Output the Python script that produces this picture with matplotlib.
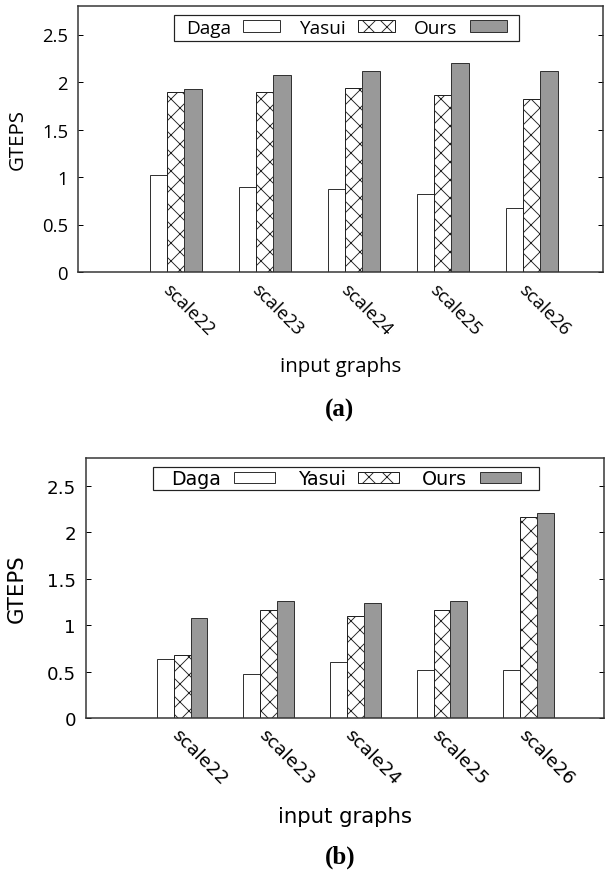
import numpy as np
import matplotlib
matplotlib.use("Agg")
import matplotlib.pyplot as plt
import matplotlib.transforms as mtrans
from matplotlib.patches import Rectangle

# data
graphs = ["scale22", "scale23", "scale24", "scale25", "scale26"]
series = ["Daga", "Yasui", "Ours"]

daga_a = [1.02, 0.89, 0.87, 0.82, 0.675]
yasui_a = [1.90, 1.89, 1.94, 1.865, 1.82]
ours_a = [1.925, 2.07, 2.115, 2.205, 2.12]

daga_b = [0.64, 0.475, 0.60, 0.515, 0.515]
yasui_b = [0.68, 1.16, 1.10, 1.165, 2.16]
ours_b = [1.08, 1.265, 1.24, 1.255, 2.205]

yticks = [0, 0.5, 1, 1.5, 2, 2.5]
ytick_labels = ["0", "0.5", "1", "1.5", "2", "2.5"]

DPI = 108   # hatch cell is one inch, so 'xx' gives ~9px diamonds here
W, H = 605, 875
plt.rcParams["hatch.linewidth"] = 0.6


def pt(p):
    # pixels -> points
    return p * 72.0 / DPI


fig = plt.figure(figsize=(W / DPI, H / DPI), dpi=DPI)


def px(x0, y0, x1, y1):
    # pixel box -> figure fraction rect
    return [x0 / W, 1 - y1 / H, (x1 - x0) / W, (y1 - y0) / H]


def panel(rect, vals, font, sizes, xlim, leg_box, leg_opts, ylab_xy, xlab_y, cap, cap_y, lab_off):
    tick_fs, lab_fs, leg_fs = [pt(s) for s in sizes]
    ax = fig.add_axes(rect)
    x = np.arange(len(graphs))
    w = 0.195
    styles = [
        dict(color="white", edgecolor="#333333"),
        dict(color="white", edgecolor="#222222", hatch="xx"),
        dict(color="#999999", edgecolor="#333333"),
    ]
    handles = []
    for i, (v, st) in enumerate(zip(vals, styles)):
        b = ax.bar(x + (i - 1) * w, v, w, linewidth=pt(1), label=series[i], **st)
        handles.append(b)
    ax.set_xlim(*xlim)
    ax.set_ylim(0, 2.8)
    ax.set_yticks(yticks)
    ax.set_yticklabels(ytick_labels, fontfamily=font, fontsize=tick_fs)
    ax.tick_params(axis="y", direction="in", length=pt(5), width=pt(1), right=True, pad=pt(10))
    ax.set_xticks(x)
    ax.set_xticklabels(graphs, fontfamily=font, fontsize=tick_fs, rotation=-45,
                       ha="left", va="top", rotation_mode="anchor")
    ax.tick_params(axis="x", length=0, pad=pt(lab_off[1]))
    shift = mtrans.ScaledTranslation(lab_off[0] / DPI, 0, fig.dpi_scale_trans)
    for t in ax.get_xticklabels():
        t.set_transform(t.get_transform() + shift)
    for s in ax.spines.values():
        s.set_linewidth(pt(1.5))
        s.set_color("#333333")

    # gnuplot style key: frame drawn by hand, legend entries centred inside it
    fx0, fy0, fx1, fy1 = leg_box
    fig.add_artist(Rectangle((fx0 / W, 1 - fy1 / H), (fx1 - fx0) / W, (fy1 - fy0) / H,
                             transform=fig.transFigure, fill=False,
                             edgecolor="#222222", linewidth=pt(1.2)))
    ax.legend(handles=handles, loc="center",
              bbox_to_anchor=((fx0 + fx1) / 2 / W, 1 - (fy0 + fy1) / 2 / H),
              bbox_transform=fig.transFigure, ncol=3, markerfirst=False,
              prop=dict(family=font, size=leg_fs), frameon=False, borderpad=0,
              **leg_opts)

    fig.text(ylab_xy[0] / W, 1 - ylab_xy[1] / H, "GTEPS", rotation=90,
             ha="center", va="center", fontfamily=font, fontsize=lab_fs)
    fig.text((rect[0] + rect[2] / 2), 1 - xlab_y / H, "input graphs",
             ha="center", va="center", fontfamily=font, fontsize=lab_fs)
    fig.text(340 / W, 1 - cap_y / H, cap, ha="center", va="center",
             fontfamily="Liberation Serif", fontweight="bold", fontsize=pt(25))
    return ax


# (a)
panel(px(78, 7, 603, 273), [daga_a, yasui_a, ours_a], "Open Sans", (18.5, 20.5, 19),
      (-1.097, 4.80), (174, 16, 519, 42),
      dict(handlelength=1.95, handletextpad=0.63, columnspacing=1.0, handleheight=0.58),
      (18, 140), 367, "(a)", 410, (-4, 8))

# (b)
panel(px(86, 459, 604, 719), [daga_b, yasui_b, ours_b], "DejaVu Sans", (18.3, 21.2, 19),
      (-1.11, 4.87), (153, 468, 539, 491),
      dict(handlelength=2.15, handletextpad=0.68, columnspacing=1.2, handleheight=0.48),
      (17, 589), 817, "(b)", 857, (-1, 7))

fig.savefig("out.png", dpi=DPI)
